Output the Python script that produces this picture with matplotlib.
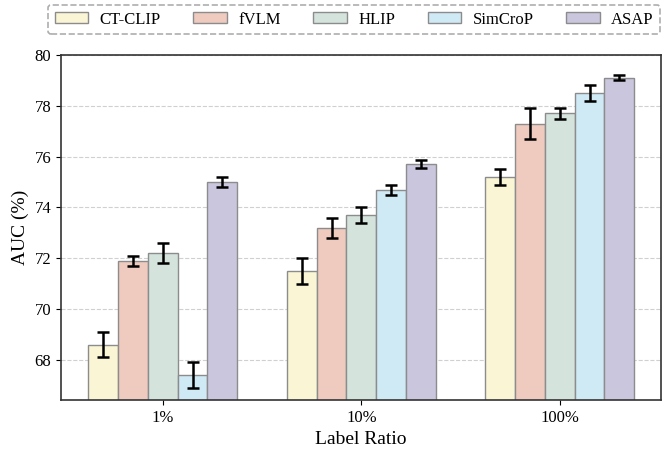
import matplotlib
matplotlib.use("Agg")
import matplotlib.pyplot as plt
import numpy as np

plt.rcParams['font.family'] = ['Liberation Serif', 'DejaVu Serif']

groups = ['1%', '10%', '100%']
methods = ['CT-CLIP', 'fVLM', 'HLIP', 'SimCroP', 'ASAP']
values = {
    'CT-CLIP': [68.6, 71.5, 75.2],
    'fVLM':    [71.9, 73.2, 77.3],
    'HLIP':    [72.2, 73.7, 77.7],
    'SimCroP': [67.4, 74.7, 78.5],
    'ASAP':    [75.0, 75.7, 79.1],
}
errors = {
    'CT-CLIP': [0.5, 0.5, 0.3],
    'fVLM':    [0.2, 0.4, 0.6],
    'HLIP':    [0.4, 0.3, 0.2],
    'SimCroP': [0.5, 0.2, 0.3],
    'ASAP':    [0.2, 0.15, 0.1],
}
colors = ['#FAF5D5', '#EECBBE', '#D4E3DC', '#CFE9F5', '#C9C6DD']

fig = plt.figure(figsize=(6.69, 4.49), dpi=100)
ax = fig.add_axes([61/669, 1-400/449, 600/669, 345/449])

x = np.arange(len(groups))
w = 0.15
for i, m in enumerate(methods):
    ax.bar(x + (i - 2) * w, values[m], w, color=colors[i], edgecolor='#8c8c8c',
           linewidth=1.0, label=m, zorder=2,
           yerr=errors[m], capsize=4, error_kw=dict(ecolor='black', elinewidth=1.8, capthick=1.8, zorder=3))

ax.set_xlim(-0.513, 2.51)
ax.set_ylim(66.42, 80)
ax.set_yticks([68, 70, 72, 74, 76, 78, 80])
ax.set_xticks(x)
ax.set_xticklabels(groups)
ax.yaxis.grid(True, linestyle='--', color='#d0d0d0', linewidth=0.8, zorder=0)
ax.set_axisbelow(True)
ax.tick_params(labelsize=12)
ax.set_ylabel('AUC (%)', fontsize=14)
ax.set_xlabel('Label Ratio', fontsize=14, labelpad=4)
for s in ax.spines.values():
    s.set_linewidth(1.2)
    s.set_color('#333333')

leg = fig.legend(loc='upper left', bbox_to_anchor=(48/669, 1-5/449), ncol=5, fontsize=12,
                 frameon=True, fancybox=True, handlelength=2.0, handleheight=0.6,
                 handletextpad=0.7, columnspacing=1.95, borderpad=0.4, borderaxespad=0)
frame = leg.get_frame()
frame.set_linestyle('--')
frame.set_edgecolor('#999999')
frame.set_linewidth(1.2)

fig.savefig('out.png', dpi=100)
